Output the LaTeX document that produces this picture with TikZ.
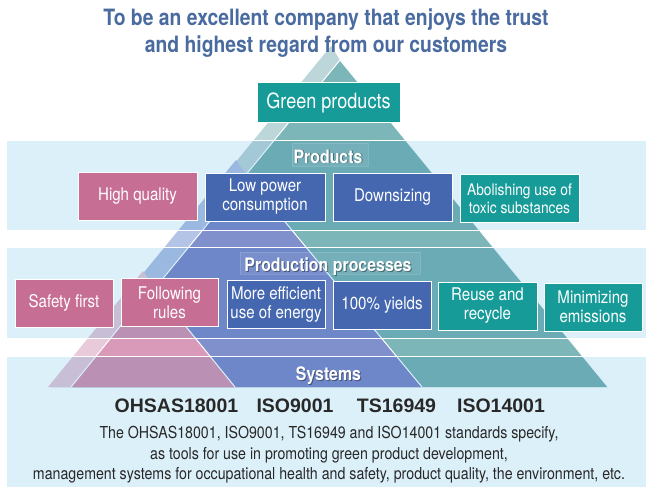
\documentclass[tikz,border=0pt]{standalone}
\usepackage{fontspec}
\setmainfont{TeX Gyre Heros}[FakeStretch=0.86]
\newfontfamily\stdfont{Liberation Sans}
\definecolor{title_blue}{RGB}{74,107,160}
\definecolor{band_blue}{RGB}{220,240,250}
\definecolor{teal_face}{RGB}{125,182,185}
\definecolor{teal_side}{RGB}{188,214,218}
\definecolor{blue_face}{RGB}{128,144,204}
\definecolor{blue_side}{RGB}{180,196,230}
\definecolor{pink_face}{RGB}{216,154,184}
\definecolor{pink_side}{RGB}{232,202,218}
\definecolor{box_pink}{RGB}{199,110,148}
\definecolor{box_blue}{RGB}{68,103,176}
\definecolor{box_teal}{RGB}{22,155,153}
\definecolor{text_gray}{RGB}{40,40,40}

\begin{document}
\begin{tikzpicture}[x=1pt,y=-1pt]
    \tikzstyle{box}=[draw=white, line width=1pt, text=white, inner sep=0pt, align=center, minimum height=48pt, font=\fontsize{17.5}{19}\selectfont]
    \tikzstyle{pk}=[style=box, fill=box_pink]
    \tikzstyle{bl}=[style=box, fill=box_blue]
    \tikzstyle{tl}=[style=box, fill=box_teal]
    \tikzstyle{band}=[fill=band_blue, blend mode=multiply]
    \tikzstyle{edge}=[white, line width=1pt]
    \tikzstyle{glow}=[fill=white, fill opacity=0.07, draw=white, draw opacity=0.15]
    \tikzstyle{lbl}=[text=white, anchor=base, inner sep=0pt, font=\fontsize{18.5}{20}\selectfont\bfseries]
    \tikzstyle{shd}=[style=lbl, text=black, text opacity=0.4]
    \tikzstyle{std}=[text=text_gray, anchor=base, inner sep=0pt, font=\stdfont\fontsize{19.5}{21}\selectfont\bfseries]

    \useasboundingbox (0,0) rectangle (646,487);

    \fill[teal_side] (331,46) -- (340,60) -- (608,387) -- (51,387) -- cycle;
    \fill[teal_face] (340,60) -- (608,387) -- (72,387) -- cycle;
    \draw[edge] (72,387) -- (340,60) -- (608,387);
    \fill[blue_side] (236,160) -- (247,176) -- (422,387) -- (50,387) -- cycle;
    \fill[blue_face] (247,176) -- (422,387) -- (74,387) -- cycle;
    \draw[edge] (74,387) -- (247,176) -- (422,387);
    \fill[pink_side] (143,271) -- (153,286) -- (235,387) -- (48,387) -- cycle;
    \fill[pink_face] (153,286) -- (235,387) -- (71,387) -- cycle;
    \draw[edge] (71,387) -- (153,286) -- (235,387);

    \fill[band] (7,140) rectangle (646,230);
    \fill[band] (7,247) rectangle (646,338);
    \fill[band] (7,356) rectangle (646,487);
    \foreach \y in {140,230,247,338,356}
      \draw[white, line width=0.8pt] (7,\y) -- (646,\y);

    \node[text=title_blue, anchor=base, inner sep=0pt, align=center,
          font=\fontsize{22.5}{26.5}\selectfont\bfseries] (goal) at (326,52.5)
          {To be an excellent company that enjoys the trust\\and highest regard from our customers};

    \node[tl, minimum width=143pt, minimum height=40pt, font=\fontsize{21}{23}\selectfont] (green) at (328.5,103) {Green products};

    \draw[glow] (292,143) rectangle (368,166);
    \node[shd] (prod-s) at (329,164) {Products};
    \node[lbl] (prod) at (328,163) {Products};

    \node[pk, minimum width=119pt] (hq) at (137.5,196) {High quality};
    \node[bl, minimum width=120pt] (lp) at (265,197) {Low power\\consumption};
    \node[bl, minimum width=119pt] (ds) at (392.5,197.5) {Downsizing};
    \node[tl, minimum width=119pt, font=\fontsize{16}{18}\selectfont] (ab) at (519.5,198.5) {Abolishing use of\\toxic substances};

    \draw[glow] (240,252) rectangle (420,274);
    \node[shd] (proc-s) at (329,272.5) {Production processes};
    \node[lbl] (proc) at (328,271.5) {Production processes};

    \node[pk, minimum width=98pt] (sf) at (64,303) {Safety first};
    \node[pk, minimum width=97pt] (fr) at (169.5,302.5) {Following\\rules};
    \node[bl, minimum width=98pt] (me) at (276,304.5) {More efficient\\use of energy};
    \node[bl, minimum width=98pt] (yl) at (382,305.5) {100\% yields};
    \node[tl, minimum width=99pt] (rr) at (487.5,306) {Reuse and\\recycle};
    \node[tl, minimum width=98pt] (mn) at (593,307) {Minimizing\\emissions};

    \node[shd] (sys-s) at (329.5,381) {Systems};
    \node[lbl] (sys) at (328.5,380) {Systems};

    \node[std] (ohsas) at (176.5,412) {OHSAS18001};
    \node[std] (iso9) at (295,412) {ISO9001};
    \node[std] (ts) at (396.5,412) {TS16949};
    \node[std] (iso14) at (501,412) {ISO14001};

    \node[text=text_gray, anchor=base, inner sep=0pt, align=center,
          font=\fontsize{16.5}{20.5}\selectfont] (note) at (329,479.5)
          {The OHSAS18001, ISO9001, TS16949 and ISO14001 standards specify,\\
           as tools for use in promoting green product development,\\
           management systems for occupational health and safety, product quality, the environment, etc.};
\end{tikzpicture}
\end{document}
